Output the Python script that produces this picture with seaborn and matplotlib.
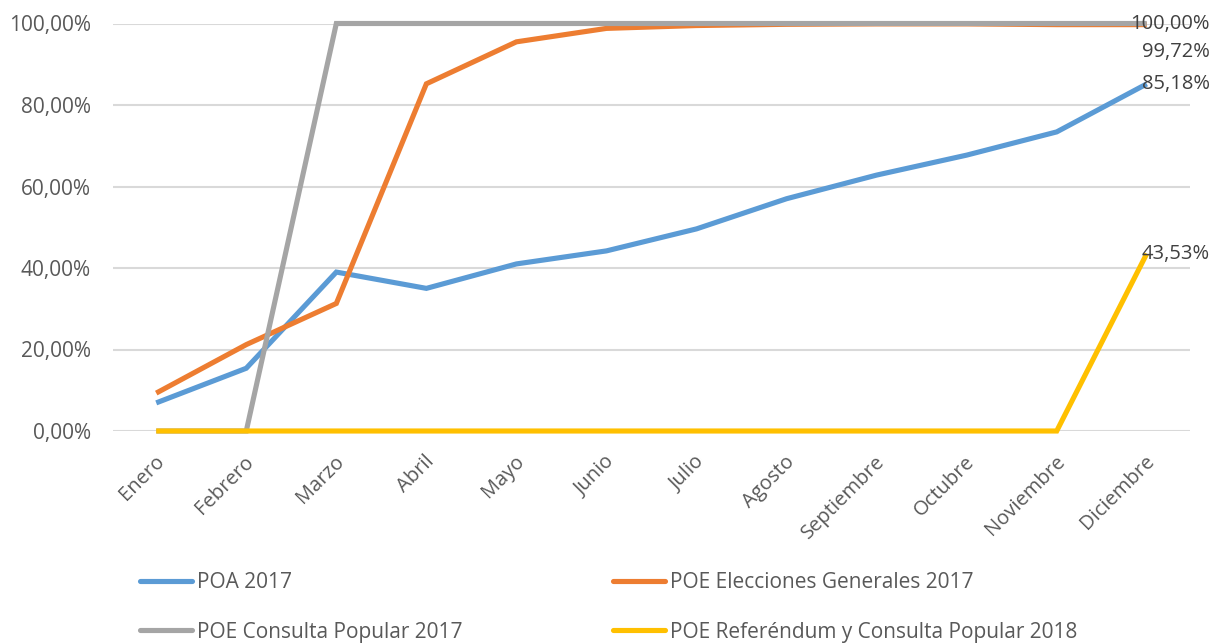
import matplotlib
matplotlib.use("Agg")
import matplotlib.pyplot as plt
import matplotlib.transforms as mtransforms
from matplotlib.ticker import FuncFormatter
from matplotlib.lines import Line2D
import seaborn as sns
import pandas as pd

meses = ["Enero", "Febrero", "Marzo", "Abril", "Mayo", "Junio", "Julio",
         "Agosto", "Septiembre", "Octubre", "Noviembre", "Diciembre"]
poa_2017 = [0.069, 0.154, 0.390, 0.350, 0.410, 0.442, 0.496, 0.570, 0.628, 0.677, 0.734, 0.8518]
poe_elecciones_2017 = [0.093, 0.212, 0.313, 0.852, 0.955, 0.988, 0.995, 0.998, 0.999, 0.999, 0.9972, 0.9972]
poe_consulta_2017 = [0.0, 0.0, 1.0, 1.0, 1.0, 1.0, 1.0, 1.0, 1.0, 1.0, 1.0, 1.0]
poe_referendum_2018 = [0.0, 0.0, 0.0, 0.0, 0.0, 0.0, 0.0, 0.0, 0.0, 0.0, 0.0, 0.4353]

series_names = ["POA 2017", "POE Elecciones Generales 2017",
                "POE Consulta Popular 2017", "POE Referéndum y Consulta Popular 2018"]
series_vals = [poa_2017, poe_elecciones_2017, poe_consulta_2017, poe_referendum_2018]
colors = ["#5B9BD5", "#ED7D31", "#A5A5A5", "#FFC000"]

rows = []
for name, vals in zip(series_names, series_vals):
    for i, (m, v) in enumerate(zip(meses, vals)):
        rows.append({"idx": i, "mes": m, "valor": v, "serie": name})
df = pd.DataFrame(rows)

sns.set_theme(style="white")
plt.rcParams["font.family"] = ["Open Sans", "DejaVu Sans"]

fig = plt.figure(figsize=(12.11, 6.43), dpi=100)
ax = fig.add_axes([113 / 1211, 1 - 431 / 643, (1190 - 113) / 1211, (431 - 23.5) / 643])

sns.lineplot(data=df, x="idx", y="valor", hue="serie", hue_order=series_names,
             palette=colors, linewidth=3.7, sort=False, ax=ax, legend=False,
             solid_capstyle="butt")
for ln in ax.get_lines():
    ln.set_clip_on(False)
    ln.set_solid_joinstyle("miter")

ax.set_xlim(-0.48, 11.48)
ax.set_ylim(0, 1)
ax.set_yticks([0, 0.2, 0.4, 0.6, 0.8, 1.0])
ax.yaxis.set_major_formatter(FuncFormatter(lambda v, p: f"{v*100:.2f}%".replace(".", ",")))
ax.grid(axis="y", color="#D9D9D9", linewidth=1.5)
ax.grid(axis="x", visible=False)
ax.set_axisbelow(True)
for s in ax.spines.values():
    s.set_visible(False)
ax.set_xlabel("")
ax.set_ylabel("")

ax.set_xticks(range(len(meses)))
ax.set_xticklabels(meses, rotation=45, ha="right", va="center", rotation_mode="anchor")
ax.tick_params(axis="x", length=0, pad=20, labelsize=14.5, labelcolor="#595959")
ax.tick_params(axis="y", length=0, pad=16, labelsize=15, labelcolor="#595959")
offset = mtransforms.ScaledTranslation(5 / 100, 0, fig.dpi_scale_trans)
for lbl in ax.get_xticklabels():
    lbl.set_transform(lbl.get_transform() + offset)

# data labels at last point
last = len(meses) - 1
label_dy = {"POA 2017": 0, "POE Elecciones Generales 2017": -27,
            "POE Consulta Popular 2017": 0, "POE Referéndum y Consulta Popular 2018": 0}
for name, vals in zip(series_names, series_vals):
    v = vals[-1]
    ax.annotate(f"{v*100:.2f}%".replace(".", ","), xy=(last, v),
                xytext=(63 * 0.72, label_dy[name] * 0.72), textcoords="offset points",
                ha="right", va="center", fontsize=14.5, color="#404040",
                annotation_clip=False, zorder=10)

handles = [Line2D([0], [0], color=c, linewidth=3.7, solid_capstyle="round") for c in colors]
order = [0, 2, 1, 3]
leg = fig.legend([handles[i] for i in order], [series_names[i] for i in order],
                 ncol=2, loc="center left", bbox_to_anchor=(140 / 1211, 1 - 607.5 / 643),
                 frameon=False, fontsize=15, handlelength=2.5, handletextpad=0.24,
                 columnspacing=7.2, labelspacing=1.37, borderaxespad=0, borderpad=0)
for t in leg.get_texts():
    t.set_color("#595959")

fig.savefig("out.png", dpi=100)
